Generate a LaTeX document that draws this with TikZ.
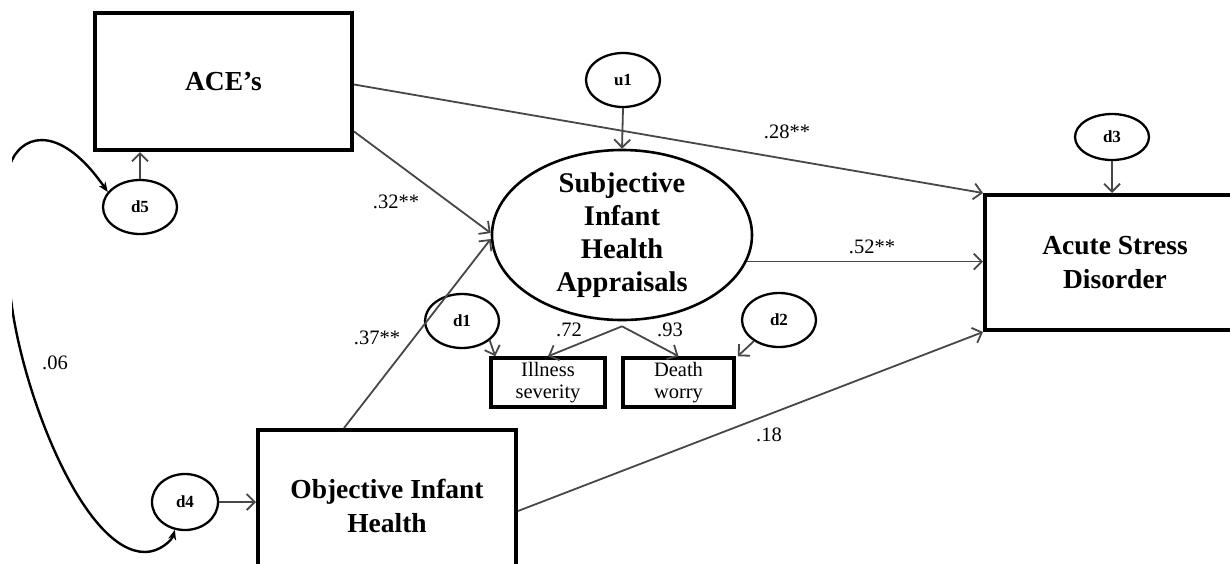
\documentclass[tikz,border=0pt]{standalone}
\usepackage{fontspec}
\setmainfont{Liberation Serif}
\usetikzlibrary{arrows.meta,shapes.geometric}
\begin{document}
\begin{tikzpicture}[x=1pt,y=-1pt,
  var/.style={draw=black, line width=4pt, inner sep=0pt, align=center,
    font=\bfseries\fontsize{27.5}{34}\selectfont},
  err/.style={draw=black, ellipse, line width=2.3pt, inner sep=0pt,
    minimum width=74pt, minimum height=54pt,
    font=\bfseries\fontsize{17}{19}\selectfont},
  ind/.style={draw=black, line width=3.5pt, inner sep=0pt, align=center,
    minimum height=49pt, font=\fontsize{20.5}{22}\selectfont},
  effect/.style={draw=black!72, line width=1.8pt,
    -{Straight Barb[length=8pt,width=16pt,line width=1.8pt]}},
  coef/.style={inner sep=0pt, font=\fontsize{20.5}{22}\selectfont},
  cov/.style={draw=black, line width=2.4pt,
    {Stealth[length=10pt,width=8pt]}-{Stealth[length=10pt,width=8pt]}}]

\useasboundingbox (0,0) rectangle (1230,563);
\clip (0,0) rectangle (1230,563);

% observed variables
\node[var, minimum width=257pt, minimum height=137pt] (ace) at (223.5,81.5) {ACE’s};
\node[var, minimum width=260pt, minimum height=135pt] (asd) at (1115,262.5) {Acute Stress\\Disorder};
\node[var, minimum width=258pt, minimum height=152pt] (oih) at (387,506) {Objective Infant\\Health};

% latent variable and its indicators
\node[draw=black, ellipse, line width=2.6pt, inner sep=0pt,
      minimum width=260pt, minimum height=170pt] (siha) at (622,235) {};
\node[align=center, inner sep=0pt, font=\bfseries\fontsize{28.5}{33}\selectfont]
      (sihatext) at (siha.center) {Subjective\\Infant\\Health\\Appraisals};
\node[ind, minimum width=114pt] (ill) at (548,382.5) {Illness\\severity};
\node[ind, minimum width=111pt] (dw) at (678.5,382.5) {Death\\worry};

% disturbances
\node[err] (u1) at (623,80) {u1};
\node[err, minimum height=46pt] (d3) at (1112,137) {d3};
\node[err] (d5) at (140,207) {d5};
\node[err, minimum width=66pt, minimum height=56pt] (d4) at (185,502) {d4};
\node[err] (d1) at (462,321) {d1};
\node[err] (d2) at (779,320) {d2};

% structural paths
\draw[effect] ([yshift=-3pt]ace.east) -- (asd.north west);
\draw[effect] ([yshift=-50pt]ace.east) -- ([yshift=2pt]siha.west);
\draw[effect] ([xshift=-43pt]oih.north) -- ([yshift=-4pt]siha.west);
\draw[effect] (siha.-12) -- (siha.-12 -| asd.west);
\draw[effect] ([yshift=-5pt]oih.east) -- (asd.south west);

% measurement paths
\coordinate (split) at ([yshift=-5pt]siha.south);
\draw[effect] (split) -- (ill.north);
\draw[effect] (split) -- (dw.north);

% disturbance paths
\draw[effect] (u1.south) -- (siha.north);
\draw[effect] (d3.south) -- (d3.south |- asd.north);
\draw[effect] (d5.north) -- (d5.north |- ace.south);
\draw[effect] (d4.east) -- (d4.east -| oih.west);
\draw[effect] (d1.-35) -- ([xshift=6pt]ill.north west);
\draw[effect] (d2.220) -- ([xshift=2pt]dw.north east);

% covariance between d5 and d4
\begin{scope}
  \clip (12,0) rectangle (1230,563);
  \draw[cov] (d5.155) .. controls (62,126) and (25,133) .. (12,160)
    .. controls (-1,187) and (-1,214) .. (12,307)
    .. controls (25,400) and (85,552) .. (145,552)
    .. controls (160,552) and (172,540) .. (d4.250);
\end{scope}

% coefficients
\node[coef] (c28) at (787,132) {.28**};
\node[coef] (c32) at (396,202) {.32**};
\node[coef] (c52) at (872,247) {.52**};
\node[coef] (c37) at (377,338) {.37**};
\node[coef] (c06) at (55,363) {.06};
\node[coef] (c18) at (769,435) {.18};
\node[coef] (c72) at (569,330) {.72};
\node[coef] (c93) at (670,330) {.93};
\end{tikzpicture}
\end{document}
